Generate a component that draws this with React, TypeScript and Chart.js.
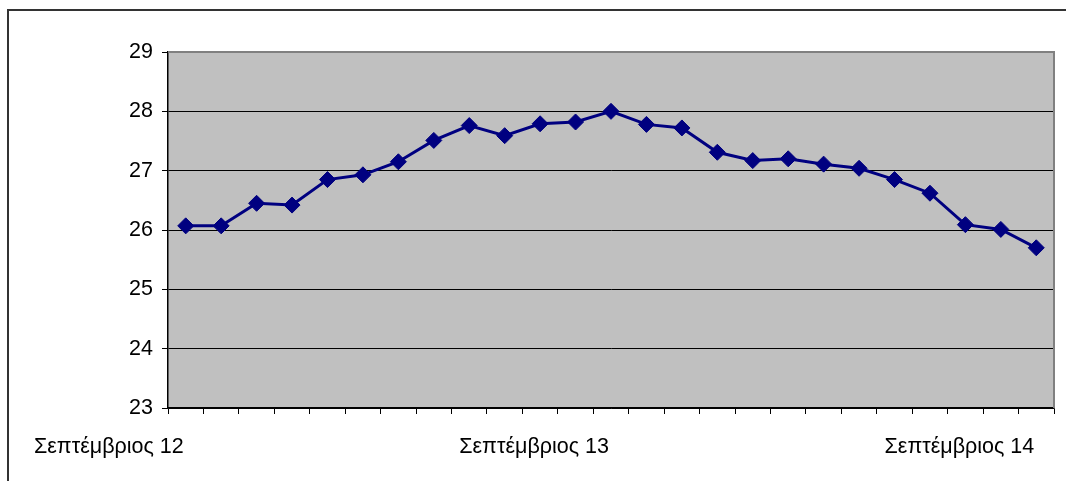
import React, { useEffect, useRef } from "react";
import { Chart, registerables } from "chart.js";

Chart.register(...registerables);

const categories: string[] = [
  "Σεπτέμβριος 12", "", "", "", "", "", "", "", "", "", "", "",
  "Σεπτέμβριος 13", "", "", "", "", "", "", "", "", "", "", "",
  "Σεπτέμβριος 14",
];

const temperatures: number[] = [
  26.07, 26.07, 26.45, 26.42, 26.85, 26.93, 27.15, 27.51, 27.76, 27.59, 27.79, 27.82,
  28.0, 27.78, 27.72, 27.31, 27.17, 27.2, 27.11, 27.04, 26.85, 26.62, 26.09, 26.01, 25.7,
];

const yMin = 23;
const yMax = 29;
const yStep = 1;

const plotFrame = {
  id: "plotFrame",
  afterDraw(chart: any) {
    const { ctx, chartArea } = chart;
    ctx.save();
    ctx.strokeStyle = "#808080";
    ctx.lineWidth = 2;
    ctx.beginPath();
    ctx.moveTo(chartArea.left, chartArea.top);
    ctx.lineTo(chartArea.right, chartArea.top);
    ctx.lineTo(chartArea.right, chartArea.bottom);
    ctx.stroke();
    ctx.restore();
  },
};

const plotBg = {
  id: "plotBg",
  beforeDraw(chart: any) {
    const { ctx, chartArea } = chart;
    ctx.save();
    ctx.fillStyle = "#C0C0C0";
    ctx.fillRect(chartArea.left, chartArea.top, chartArea.right - chartArea.left, chartArea.bottom - chartArea.top);
    ctx.restore();
  },
};

export default function App() {
  const ref = useRef<HTMLCanvasElement | null>(null);
  useEffect(() => {
    if (!ref.current) return;
    const font = { family: "'Liberation Sans', Arial, sans-serif", size: 21.5 };
    const chart = new Chart(ref.current, {
      type: "line",
      data: {
        labels: categories,
        datasets: [
          {
            data: temperatures,
            borderColor: "#000080",
            backgroundColor: "#000080",
            borderWidth: 3,
            pointStyle: "rectRot",
            pointRadius: 8,
            pointBorderWidth: 1,
            pointBackgroundColor: "#000080",
            pointBorderColor: "#000080",
            tension: 0,
          },
        ],
      },
      options: {
        animation: false,
        responsive: false,
        devicePixelRatio: 1,
        layout: { padding: { top: 52, right: 12, left: 0, bottom: 0 } },
        plugins: { legend: { display: false }, tooltip: { enabled: false } },
        scales: {
          x: {
            type: "category",
            offset: true,
            grid: {
              offset: true,
              drawOnChartArea: false,
              drawTicks: true,
              tickLength: 6,
              tickColor: "#000000",
              lineWidth: 1,
            },
            border: { display: true, color: "#000000", width: 1.5 },
            ticks: {
              autoSkip: false,
              maxRotation: 0,
              minRotation: 0,
              align: "end",
              labelOffset: -2,
              padding: 20,
              color: "#000000",
              font,
            },
            afterFit(scale: any) {
              scale.height = 73;
            },
          },
          y: {
            min: yMin,
            max: yMax,
            grid: {
              color: (c: any) => (c.tick && c.tick.value === yMax ? "rgba(0,0,0,0)" : "#000000"),
              tickColor: "#000000",
              tickLength: 6,
              lineWidth: 1,
              drawTicks: true,
            },
            border: { display: true, color: "#000000", width: 1.5 },
            ticks: {
              stepSize: yStep,
              padding: 9,
              color: "#000000",
              font,
            },
            afterFit(scale: any) {
              scale.width = 168;
            },
          },
        },
      },
      plugins: [plotBg, plotFrame],
    });
    return () => chart.destroy();
  }, []);

  return (
    <div style={{ position: "fixed", left: 0, top: 0, width: 1066, height: 481, background: "#fff", overflow: "hidden" }}>
      <div
        style={{
          position: "absolute",
          left: 7,
          top: 9,
          width: 1080,
          height: 500,
          borderLeft: "2px solid #333",
          borderTop: "2px solid #333",
        }}
      />
      <canvas ref={ref} width={1066} height={481} style={{ position: "absolute", left: 0, top: 0, width: 1066, height: 481 }} />
    </div>
  );
}
